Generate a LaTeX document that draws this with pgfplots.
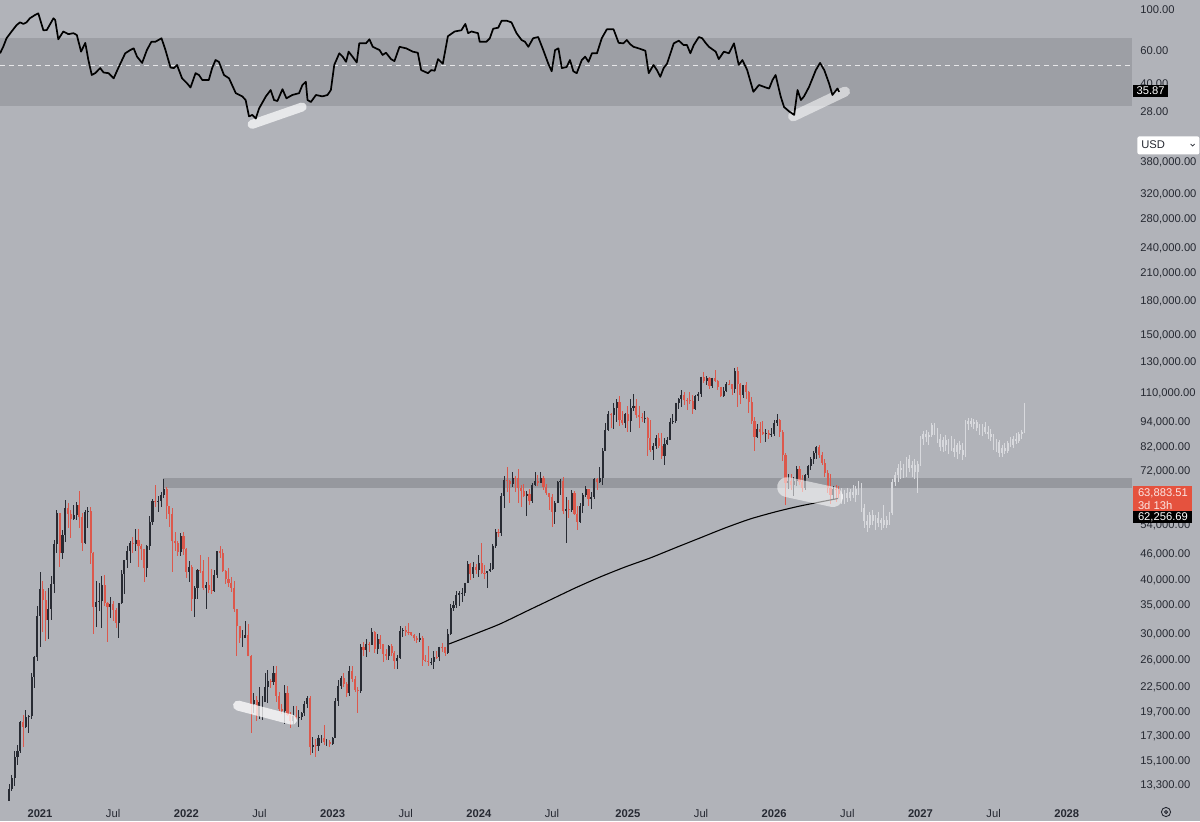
\documentclass[border=0pt]{standalone}
\usepackage{pgfplots}
\pgfplotsset{compat=1.18}
\usepackage{pgfplotstable}
\usepackage{fontspec}
\setmainfont{Liberation Sans}
\definecolor{bgc}{RGB}{177,179,185}
\definecolor{rsiband}{RGB}{157,159,165}
\definecolor{pband}{RGB}{150,152,158}
\definecolor{upc}{RGB}{40,43,51}
\definecolor{dnc}{RGB}{220,88,76}
\definecolor{txt}{RGB}{38,41,50}
\definecolor{redbox}{RGB}{229,82,62}
\definecolor{ghostc}{RGB}{216,217,221}
\newcommand{\lab}{\fontsize{5.6}{6.4}\selectfont}

\pgfplotstableread{
i o h l c
0 11.38 11.72 11.20 11.50
1 11.50 13.35 11.40 13.03
2 13.03 14.00 12.90 13.80
3 13.80 15.96 13.20 15.48
4 15.48 16.50 14.80 15.96
5 15.96 18.80 15.80 18.70
6 18.70 19.40 16.30 18.20
7 18.20 19.90 18.10 19.15
8 19.15 19.40 17.60 19.25
9 19.25 24.30 19.00 23.80
10 23.80 26.70 22.40 26.50
11 26.50 34.80 26.00 33.00
12 33.00 41.90 28.00 38.20
13 38.20 40.00 30.40 36.00
14 36.00 37.90 28.90 32.30
15 32.30 38.50 29.20 34.30
16 34.30 40.90 32.30 39.30
17 39.30 49.70 37.50 48.60
18 48.60 58.40 46.30 57.50
19 57.50 57.60 43.00 46.30
20 46.30 52.60 45.00 51.00
21 51.00 61.80 49.30 59.00
22 59.00 60.60 53.20 57.40
23 57.40 58.40 50.40 55.80
24 55.80 60.20 55.50 57.00
25 57.00 61.20 55.50 60.00
26 60.00 64.90 53.00 56.20
27 56.20 57.50 47.00 49.00
28 49.00 58.50 48.80 57.80
29 57.80 59.50 53.00 58.20
30 58.20 59.60 43.80 46.40
31 46.40 46.60 30.00 34.70
32 34.70 40.00 31.20 35.70
33 35.70 39.50 34.00 35.80
34 35.80 40.90 31.00 39.10
35 39.10 41.30 34.80 35.50
36 35.50 35.70 28.80 34.70
37 34.70 36.60 32.70 35.30
38 35.30 35.90 32.10 34.20
39 34.20 34.60 31.00 31.80
40 31.80 35.40 29.30 35.40
41 35.40 42.30 35.30 41.50
42 41.50 44.70 37.30 44.60
43 44.60 48.10 42.80 47.00
44 47.00 49.40 43.90 49.00
45 49.00 50.50 46.30 48.80
46 48.80 52.90 46.80 49.90
47 49.90 52.70 43.00 48.30
48 48.30 48.80 44.70 47.30
49 47.30 47.30 39.60 42.70
50 42.70 48.40 40.80 48.20
51 48.20 56.60 47.10 54.90
52 54.90 62.00 53.90 61.50
53 61.50 67.00 59.60 61.00
54 61.00 63.00 57.80 61.30
55 61.30 64.30 59.50 63.30
56 63.30 69.00 62.30 65.50
57 65.50 66.30 55.60 59.70
58 59.70 59.90 53.30 57.20
59 57.20 59.20 42.00 49.40
60 49.40 51.90 47.00 48.90
61 48.90 49.50 45.60 46.70
62 46.70 51.80 45.60 50.80
63 50.80 52.10 45.90 47.30
64 47.30 47.60 40.50 41.90
65 41.90 44.50 39.60 43.10
66 43.10 43.50 34.00 36.30
67 36.30 38.90 32.90 38.50
68 38.50 42.60 36.30 42.40
69 42.40 45.80 41.70 42.20
70 42.20 44.80 38.00 38.40
71 38.40 39.80 34.30 39.10
72 39.10 45.40 37.40 38.00
73 38.00 42.50 37.20 37.80
74 37.80 42.30 37.60 41.30
75 41.30 46.90 40.60 46.80
76 46.80 48.20 45.20 46.40
77 46.40 47.50 42.10 42.20
78 42.20 42.40 39.20 40.40
79 40.40 42.90 38.60 39.50
80 39.50 40.80 37.70 38.50
81 38.50 40.00 33.70 34.30
82 34.30 34.30 26.70 31.30
83 31.30 31.30 28.60 29.40
84 29.40 30.60 28.00 29.40
85 29.40 32.20 29.30 29.90
86 29.90 31.70 26.60 26.60
87 26.60 26.80 17.60 20.60
88 20.60 21.80 19.60 21.00
89 21.00 21.50 18.80 19.30
90 19.30 22.50 19.00 20.80
91 20.80 21.50 18.90 20.80
92 20.80 24.30 20.80 22.60
93 22.60 24.70 20.70 23.30
94 23.30 23.60 22.40 23.20
95 23.20 25.20 22.80 24.30
96 24.30 25.20 20.80 21.50
97 21.50 22.00 19.80 20.00
98 20.00 20.60 19.50 19.80
99 19.80 22.80 18.50 21.80
100 21.80 22.70 19.30 19.40
101 19.40 19.70 18.10 18.80
102 18.80 20.30 18.50 19.30
103 19.30 20.40 19.00 19.10
104 19.10 19.90 18.20 19.20
105 19.20 19.70 18.90 19.60
106 19.60 20.90 19.30 20.60
107 20.60 21.50 20.10 21.30
108 21.30 21.50 15.60 16.30
109 16.30 17.20 15.80 16.50
110 16.50 17.00 15.50 16.45
111 16.45 17.40 16.00 17.10
112 17.10 17.40 16.70 17.10
113 17.10 18.40 16.50 16.80
114 16.80 17.00 16.40 16.80
115 16.80 16.90 16.30 16.60
116 16.60 17.20 16.50 17.10
117 17.10 21.30 17.10 20.90
118 20.90 23.40 20.40 22.70
119 22.70 23.90 22.30 23.70
120 23.70 24.30 22.60 22.90
121 22.90 23.20 21.40 21.80
122 21.80 25.30 21.50 24.60
123 24.60 25.30 23.10 23.60
124 23.60 23.90 21.90 22.20
125 22.20 22.60 19.60 22.10
126 22.10 28.50 21.80 28.00
127 28.00 28.80 26.60 27.50
128 27.50 29.20 26.50 28.50
129 28.50 28.80 27.20 28.30
130 28.30 31.00 28.30 30.30
131 30.30 30.50 27.10 27.60
132 27.60 30.00 26.90 29.20
133 29.20 29.80 27.70 28.40
134 28.40 28.50 25.80 26.90
135 26.90 27.70 26.10 26.70
136 26.70 28.30 26.10 28.10
137 28.10 28.50 26.60 27.10
138 27.10 27.40 24.80 25.90
139 25.90 26.80 24.80 26.30
140 26.30 31.40 26.20 30.50
141 30.50 31.00 29.50 30.60
142 30.60 31.40 29.70 30.30
143 30.30 31.80 29.90 30.25
144 30.25 30.40 29.60 29.90
145 29.90 30.00 28.90 29.30
146 29.30 29.70 28.60 29.00
147 29.00 30.20 28.70 29.40
148 29.40 29.70 25.20 26.10
149 26.10 26.80 25.80 26.00
150 26.00 28.10 25.30 25.80
151 25.80 26.40 25.40 25.85
152 25.85 27.40 24.90 26.50
153 26.50 27.40 26.20 26.45
154 26.45 28.00 26.00 28.00
155 28.00 28.60 27.20 27.90
156 27.90 28.00 26.60 27.10
157 27.10 30.80 26.90 30.00
158 30.00 35.20 29.80 34.50
159 34.50 35.90 33.90 35.00
160 35.00 37.90 34.50 37.10
161 37.10 37.90 34.80 37.40
162 37.40 38.40 35.60 37.50
163 37.50 39.50 36.90 39.50
164 39.50 44.50 39.40 43.80
165 43.80 44.00 40.20 41.40
166 41.40 44.30 40.50 43.00
167 43.00 43.80 41.50 42.30
168 42.30 45.90 40.80 43.90
169 43.90 49.00 41.60 41.70
170 41.70 43.50 40.30 41.60
171 41.60 42.20 38.50 42.10
172 42.10 43.90 41.80 42.60
173 42.60 48.60 42.30 48.30
174 48.30 52.80 47.70 52.10
175 52.10 52.90 50.60 51.70
176 51.70 64.00 50.90 63.10
177 63.10 70.20 59.00 68.90
178 68.90 73.80 64.50 68.40
179 68.40 68.90 60.80 67.20
180 67.20 71.80 66.40 69.70
181 69.70 70.30 64.50 69.40
182 69.40 72.80 60.70 65.70
183 65.70 66.90 59.60 64.90
184 64.90 67.20 62.80 63.10
185 63.10 64.70 56.50 63.90
186 63.90 65.50 60.20 61.50
187 61.50 67.70 60.80 67.00
188 67.00 71.90 66.60 68.50
189 68.50 70.50 66.70 67.80
190 67.80 71.90 67.60 69.60
191 69.60 70.10 65.10 66.20
192 66.20 67.20 63.40 64.00
193 64.00 64.20 58.40 62.70
194 62.70 63.80 53.50 58.00
195 58.00 61.40 54.30 60.80
196 60.80 68.40 60.60 68.20
197 68.20 69.00 63.50 68.30
198 68.30 70.00 57.30 58.10
199 58.10 62.70 49.00 58.70
200 58.70 61.80 56.10 58.40
201 58.40 65.00 57.80 64.20
202 64.20 64.90 57.20 57.30
203 57.30 59.80 52.60 54.80
204 54.80 60.60 54.60 59.90
205 59.90 64.10 57.50 63.60
206 63.60 66.50 62.70 65.60
207 65.60 65.60 59.80 62.10
208 62.10 64.50 58.90 62.80
209 62.80 69.40 62.10 69.00
210 69.00 69.50 65.10 67.90
211 67.90 73.60 67.60 69.40
212 69.40 81.50 66.80 80.40
213 80.40 93.40 80.20 89.90
214 89.90 99.60 89.40 98.00
215 98.00 98.90 90.80 97.40
216 97.40 104.00 90.50 101.10
217 101.10 106.60 94.20 104.50
218 104.50 108.30 92.20 95.20
219 95.20 99.90 92.50 93.70
220 93.70 98.90 91.20 98.30
221 98.30 102.70 89.30 94.50
222 94.50 106.40 89.20 101.30
223 101.30 109.60 99.50 102.60
224 102.60 106.50 96.20 97.70
225 97.70 102.50 91.20 96.50
226 96.50 98.80 94.10 96.10
227 96.10 99.50 93.40 96.30
228 96.30 96.50 78.20 86.10
229 86.10 95.00 80.00 80.70
230 80.70 84.10 76.60 82.60
231 82.60 87.50 81.10 86.10
232 86.10 88.80 81.60 82.40
233 82.40 88.50 77.20 78.40
234 78.40 86.10 74.50 83.70
235 83.70 86.50 83.10 85.20
236 85.20 95.80 85.10 94.00
237 94.00 97.90 92.80 94.30
238 94.30 104.30 93.40 104.20
239 104.20 107.10 100.70 106.50
240 106.50 111.90 102.10 109.00
241 109.00 110.40 103.00 105.70
242 105.70 106.80 100.40 105.60
243 105.60 110.60 103.40 105.50
244 105.50 108.90 98.20 100.90
245 100.90 108.50 100.30 108.40
246 108.40 110.50 105.10 109.20
247 109.20 119.50 107.40 119.80
248 119.80 123.20 115.80 117.30
249 117.30 120.20 114.70 119.40
250 119.40 119.80 112.00 114.20
251 114.20 119.30 112.70 119.30
252 119.30 124.50 117.20 117.40
253 117.40 117.60 111.70 113.50
254 113.50 113.50 107.30 108.20
255 108.20 113.40 107.30 111.10
256 111.10 116.80 110.60 115.30
257 115.30 117.90 114.80 115.20
258 115.20 115.40 108.60 112.10
259 112.10 125.70 109.70 123.50
260 123.50 126.20 102.00 115.20
261 115.20 115.90 103.50 108.60
262 108.60 114.00 106.70 114.50
263 114.50 116.40 106.30 110.50
264 110.50 110.80 98.90 104.70
265 104.70 107.50 93.00 94.50
266 94.50 96.60 80.60 86.80
267 86.80 93.10 86.10 90.40
268 90.40 94.20 83.90 89.30
269 89.30 94.50 87.60 88.20
270 88.20 90.50 84.50 88.40
271 88.40 90.00 86.00 87.50
272 87.50 91.00 86.50 87.90
273 87.90 95.00 87.00 93.50
274 93.50 97.90 92.00 95.00
275 95.00 95.50 86.50 89.00
276 89.00 90.00 76.00 78.50
277 78.50 79.50 60.00 67.50
278 67.50 71.00 65.50 68.50
279 68.50 71.00 65.00 67.00
280 67.00 70.00 63.00 68.50
281 68.50 74.00 66.50 73.00
282 73.00 74.00 67.00 68.00
283 68.00 70.50 64.50 66.00
284 66.00 71.00 65.00 70.50
285 70.50 74.50 69.50 74.00
286 74.00 78.00 72.50 77.00
287 77.00 80.50 75.00 79.50
288 79.50 82.50 77.00 82.00
289 82.00 83.00 77.50 78.50
290 78.50 80.00 74.50 75.50
291 75.50 77.00 70.00 71.50
292 71.50 72.50 64.00 66.00
293 66.00 71.00 60.50 63.50
294 63.50 66.50 62.00 65.50
295 65.50 67.00 61.00 65.00
296 65.00 66.50 62.50 63.88
}\realdata

\pgfplotstableread{
i o h l c
297 63.9 66.0 60.5 62.0
298 62.0 65.0 60.5 64.0
299 64.0 66.0 61.0 62.5
300 62.5 65.5 61.5 64.5
301 64.5 67.0 62.5 63.5
302 63.5 66.5 61.0 65.5
303 65.5 68.5 63.5 67.0
304 67.0 67.5 58.0 59.0
305 59.0 60.5 53.0 55.0
306 55.0 57.0 52.0 54.0
307 54.0 58.0 53.0 57.0
308 57.0 58.5 54.0 55.0
309 55.0 57.0 52.5 56.0
310 56.0 58.0 53.5 54.5
311 54.5 56.0 52.5 55.5
312 55.5 60.0 53.0 54.0
313 54.0 56.5 53.0 55.5
314 55.5 58.0 54.0 57.5
315 57.5 69.0 57.0 68.0
316 68.0 72.0 66.5 70.5
317 70.5 75.0 68.0 73.5
318 73.5 76.0 69.0 72.5
319 72.5 75.0 69.5 70.5
320 70.5 78.0 70.0 77.0
321 77.0 78.5 72.0 73.5
322 73.5 76.0 70.0 74.5
323 74.5 77.0 69.0 72.0
324 72.0 76.0 64.0 75.0
325 75.0 87.0 74.0 86.0
326 86.0 89.5 83.0 88.0
327 88.0 90.0 84.5 86.5
328 86.5 89.0 83.0 87.5
329 87.5 93.5 86.5 92.5
330 92.5 93.5 87.5 89.0
331 89.0 91.0 84.0 86.0
332 86.0 88.0 80.5 82.0
333 82.0 86.5 80.0 85.5
334 85.5 87.5 80.5 83.0
335 83.0 86.0 79.0 84.5
336 84.5 87.0 80.5 81.5
337 81.5 86.0 78.0 80.0
338 80.0 84.0 77.0 83.0
339 83.0 85.0 79.0 81.0
340 81.0 84.0 76.5 78.5
341 78.5 95.0 78.0 93.0
342 93.0 96.0 90.0 94.5
343 94.5 96.0 91.5 93.0
344 93.0 95.5 90.5 94.0
345 94.0 95.0 89.5 91.0
346 91.0 93.0 87.5 90.0
347 90.0 93.0 87.0 91.5
348 91.5 94.0 88.0 89.0
349 89.0 92.0 86.0 88.0
350 88.0 90.5 85.0 86.5
351 86.5 88.0 81.0 83.0
352 83.0 86.0 80.0 84.5
353 84.5 85.5 78.0 79.5
354 79.5 83.0 78.0 81.5
355 81.5 84.0 79.0 80.5
356 80.5 85.0 79.5 84.0
357 84.0 86.5 82.0 83.0
358 83.0 87.0 81.5 86.0
359 86.0 88.5 83.5 85.0
360 85.0 89.0 84.0 88.0
361 88.0 90.0 86.0 89.0
362 89.0 104.0 88.5 99.0
}\ghostdata

\pgfplotstableread{
i r
-2.2 58.1
-1.07 63.0
0.1 70.1
1.9 76.3
3.7 82.7
4.9 85.5
6.1 83.9
7.2 85.5
8.4 90.0
10.2 93.7
11.4 95.7
13.2 77.5
14.4 77.7
16.8 90.0
17.4 88.1
18.5 69.2
20.3 76.3
22.1 73.8
23.9 74.7
25.1 73.0
26.6 59.3
28.1 66.2
29.2 53.4
30.4 44.3
31.6 45.3
33.4 48.3
34.6 45.7
36.4 45.3
38.2 42.5
39.9 48.6
42.3 58.1
44.1 60.5
45.3 61.8
46.5 55.7
48.3 51.5
50.0 60.5
51.6 67.1
53.0 67.1
55.2 70.1
56.6 60.5
58.4 48.6
59.6 48.3
60.7 50.2
62.5 42.5
64.3 39.9
65.5 37.9
67.3 45.3
68.5 44.3
69.7 41.6
72.0 41.6
73.2 48.3
74.4 53.4
75.6 52.2
77.4 44.3
79.2 42.5
81.6 35.3
83.9 33.9
85.1 32.4
86.3 26.4
87.5 26.9
88.7 25.7
89.9 29.2
92.3 33.9
94.0 36.7
95.2 32.4
96.4 32.0
98.2 37.1
99.6 33.1
101.7 34.5
104.1 35.3
105.3 39.1
106.5 40.7
107.1 32.4
108.3 31.6
110.1 34.5
112.4 33.9
114.2 34.5
115.4 36.7
116.6 50.2
118.4 58.1
119.6 55.7
120.8 52.2
121.7 59.3
123.1 55.7
124.6 51.8
125.5 65.8
127.9 65.8
129.1 69.2
130.3 63.0
132.7 60.5
133.8 56.9
135.0 58.5
136.8 54.0
138.0 52.7
139.8 63.0
142.2 61.8
144.5 59.3
146.3 58.5
147.5 47.1
149.9 45.3
151.1 47.1
152.3 46.7
153.5 54.0
155.2 51.0
157.0 71.9
159.4 76.3
161.8 77.5
163.2 83.9
164.2 74.7
165.4 76.3
167.7 74.7
168.3 67.1
170.7 67.1
171.9 70.1
173.1 79.0
174.9 80.0
176.1 87.3
177.9 87.3
179.6 85.5
181.4 74.7
183.2 68.6
184.4 67.1
185.6 63.0
187.3 70.1
189.1 71.2
190.9 60.5
192.7 51.0
193.9 46.4
195.1 60.5
196.3 61.8
197.5 48.3
199.2 48.9
200.4 53.4
201.6 46.4
202.8 45.3
204.6 53.4
205.8 55.7
207.0 52.2
208.2 58.1
210.0 58.1
211.7 70.1
213.5 78.4
215.9 78.4
217.7 66.2
219.4 65.8
220.6 68.6
221.8 65.1
223.0 63.0
224.8 61.8
227.2 60.0
228.4 45.3
230.1 50.2
231.3 47.1
232.5 43.3
233.7 48.3
234.9 51.0
237.3 65.8
239.1 68.0
240.8 64.4
242.0 64.4
243.2 58.1
244.4 64.4
246.2 71.2
247.4 70.1
248.6 66.2
249.8 63.0
252.2 59.3
253.3 54.0
255.1 59.3
256.9 58.1
258.7 65.8
260.4 50.2
261.7 53.4
263.4 47.1
265.6 35.9
267.6 39.1
270.0 37.9
271.2 37.4
272.4 41.6
273.5 44.3
275.3 33.9
276.5 29.7
278.3 28.1
280.1 26.9
281.3 36.7
282.5 32.4
283.6 33.9
285.4 38.2
287.8 47.1
289.3 51.5
290.8 47.1
292.5 39.9
293.7 34.5
295.5 37.4
296.1 35.9
}\rsidata

\begin{document}
\begin{tikzpicture}
\fill[bgc] (0pt,-410.5pt) rectangle (600pt,0pt);

% ---------- RSI pane ----------
\begin{axis}[at={(0pt,0pt)}, anchor=north west,
  scale only axis, width=566pt, height=65pt,
  xmin=-2.22, xmax=400.2,
  ymode=log, ymin=22.27, ymax=113.08,
  axis line style={draw=none}, major tick length=0pt,
  xtick=\empty,
  ytick={28,40,60,100}, yticklabels={28.00,40.00,60.00,100.00},
  yticklabel pos=right,
  yticklabel style={anchor=west, inner sep=0pt, xshift=4pt, font=\lab, text=txt}]
\fill[rsiband] (axis cs:-2.22,30) rectangle (axis cs:400.2,70);
\draw[white, opacity=0.75, line width=0.5pt, dash pattern=on 2.5pt off 2pt] (axis cs:-2.22,50) -- (axis cs:400.2,50);
\draw[white, opacity=0.7, line width=4.5pt, line cap=round] (axis cs:87.4,23.9) -- (axis cs:105.2,29.7);
\draw[white, opacity=0.55, line width=5pt, line cap=round] (axis cs:279.7,26.4) -- (axis cs:298.2,36.0);
\addplot[black, line width=0.85pt, line join=round, mark=none] table[x=i, y=r] {\rsidata};
\end{axis}

% ---------- Price pane ----------
\begin{axis}[at={(0pt,-65pt)}, anchor=north west,
  scale only axis, width=566pt, height=335pt,
  xmin=-2.22, xmax=400.2,
  ymode=log, ymin=12.264, ymax=453.3,
  axis line style={draw=none}, major tick length=0pt,
  ytick={13.3,15.1,17.3,19.7,22.5,26,30,35,40,46,54,72,82,94,110,130,150,180,210,240,280,320,380},
  yticklabels={{13,300.00},{15,100.00},{17,300.00},{19,700.00},{22,500.00},{26,000.00},{30,000.00},{35,000.00},{40,000.00},{46,000.00},{54,000.00},{72,000.00},{82,000.00},{94,000.00},{110,000.00},{130,000.00},{150,000.00},{180,000.00},{210,000.00},{240,000.00},{280,000.00},{320,000.00},{380,000.00}},
  yticklabel pos=right,
  yticklabel style={anchor=west, inner sep=0pt, xshift=4pt, font=\lab, text=txt},
  xtick={12,38,64,90,116,142,168,194,221,247,273,299,325,351,377},
  xticklabels={\textbf{2021},Jul,\textbf{2022},Jul,\textbf{2023},Jul,\textbf{2024},Jul,\textbf{2025},Jul,\textbf{2026},Jul,\textbf{2027},Jul,\textbf{2028}},
  xticklabel style={anchor=base, inner sep=0pt, yshift=-8.5pt, font=\lab, text=txt}]
\fill[pband] (axis cs:55.7,65.9) rectangle (axis cs:400.2,69.5);
% down candles: wicks and bodies
\addplot[draw=none, mark=none, forget plot,
  restrict expr to domain={\thisrow{o}-\thisrow{c}}{0.000001:1000},
  error bars/.cd, y dir=both, y explicit, error mark=none,
  error bar style={line width=0.45pt, draw=dnc}]
  table[x=i, y=c, y error plus expr=\thisrow{h}-\thisrow{c}, y error minus expr=\thisrow{c}-\thisrow{l}] {\realdata};
\addplot[draw=none, mark=none, forget plot,
  restrict expr to domain={\thisrow{o}-\thisrow{c}}{0.000001:1000},
  error bars/.cd, y dir=both, y explicit, error mark=none,
  error bar style={line width=1.05pt, draw=dnc, line cap=butt}]
  table[x=i, y=c, y error plus expr=\thisrow{o}-\thisrow{c}, y error minus expr=0] {\realdata};
% up candles
\addplot[draw=none, mark=none, forget plot,
  restrict expr to domain={\thisrow{c}-\thisrow{o}}{0:1000},
  error bars/.cd, y dir=both, y explicit, error mark=none,
  error bar style={line width=0.45pt, draw=upc}]
  table[x=i, y=c, y error plus expr=\thisrow{h}-\thisrow{c}, y error minus expr=\thisrow{c}-\thisrow{l}] {\realdata};
\addplot[draw=none, mark=none, forget plot,
  restrict expr to domain={\thisrow{c}-\thisrow{o}}{0:1000},
  error bars/.cd, y dir=both, y explicit, error mark=none,
  error bar style={line width=1.05pt, draw=upc, line cap=butt}]
  table[x=i, y=c, y error plus expr=0, y error minus expr=\thisrow{c}-\thisrow{o}] {\realdata};
% projected candles
\addplot[draw=none, mark=none, forget plot,
  error bars/.cd, y dir=both, y explicit, error mark=none,
  error bar style={line width=0.45pt, draw=ghostc}]
  table[x=i, y=c, y error plus expr=\thisrow{h}-\thisrow{c}, y error minus expr=\thisrow{c}-\thisrow{l}] {\ghostdata};
\addplot[draw=none, mark=none, forget plot,
  error bars/.cd, y dir=both, y explicit, error mark=none,
  error bar style={line width=0.85pt, draw=ghostc, line cap=butt}]
  table[x=i, y=c, y error plus expr={max(\thisrow{o},\thisrow{c})-\thisrow{c}}, y error minus expr={\thisrow{c}-min(\thisrow{o},\thisrow{c})}] {\ghostdata};
% 200 week MA
\addplot[black, line width=0.55pt, mark=none, smooth, tension=0.4, forget plot] coordinates {
 (157.4,28.43) (166.6,30.00) (175.5,31.66) (184.4,33.78) (193.3,36.03) (202.2,38.43) (211.1,40.78) (220.0,43.04) (228.9,45.18) (237.7,47.68) (246.6,50.32) (255.5,53.10) (264.4,55.74) (273.3,57.89) (282.2,59.79) (295.7,62.26)};
% highlights
\draw[white, opacity=0.75, line width=5pt, line cap=round] (axis cs:82.4,20.4) -- (axis cs:101.6,18.9);
\draw[white, opacity=0.55, line width=10pt, line cap=round] (axis cs:277.6,66.2) -- (axis cs:293.9,62.75);
\end{axis}

% ---------- price scale labels ----------
\node[fill=black, text=white, font=\lab, inner xsep=1.6pt, inner ysep=0.9pt, anchor=west] at (566.5pt,-45.4pt) {35.87};
\node[fill=white, rounded corners=1pt, anchor=north west, minimum width=31pt, minimum height=9pt, inner sep=0pt] at (568.5pt,-68pt) {};
\node[font=\lab, text=txt, anchor=west, inner sep=0pt] at (570.5pt,-72.5pt) {USD};
\draw[txt, line width=0.4pt] (595.3pt,-72pt) -- (596.3pt,-73pt) -- (597.3pt,-72pt);
\node[fill=redbox, text=white!85!redbox, font=\lab, align=left, anchor=north west, inner xsep=2.3pt, inner ysep=1.2pt, minimum width=29.5pt] at (566.5pt,-243pt) {63,883.51\\3d 13h};
\node[fill=black, text=white, font=\lab, anchor=north west, inner xsep=2.3pt, inner ysep=0.7pt, minimum width=29.5pt] at (566.5pt,-255.5pt) {62,256.69};
\draw[txt, line width=0.45pt] (583pt,-406pt) circle (2.3pt);
\draw[txt, line width=0.45pt] (583pt,-406pt) circle (0.8pt);

\pgfresetboundingbox
\path[use as bounding box] (0pt,-410.5pt) rectangle (600pt,0pt);
\end{tikzpicture}
\end{document}
